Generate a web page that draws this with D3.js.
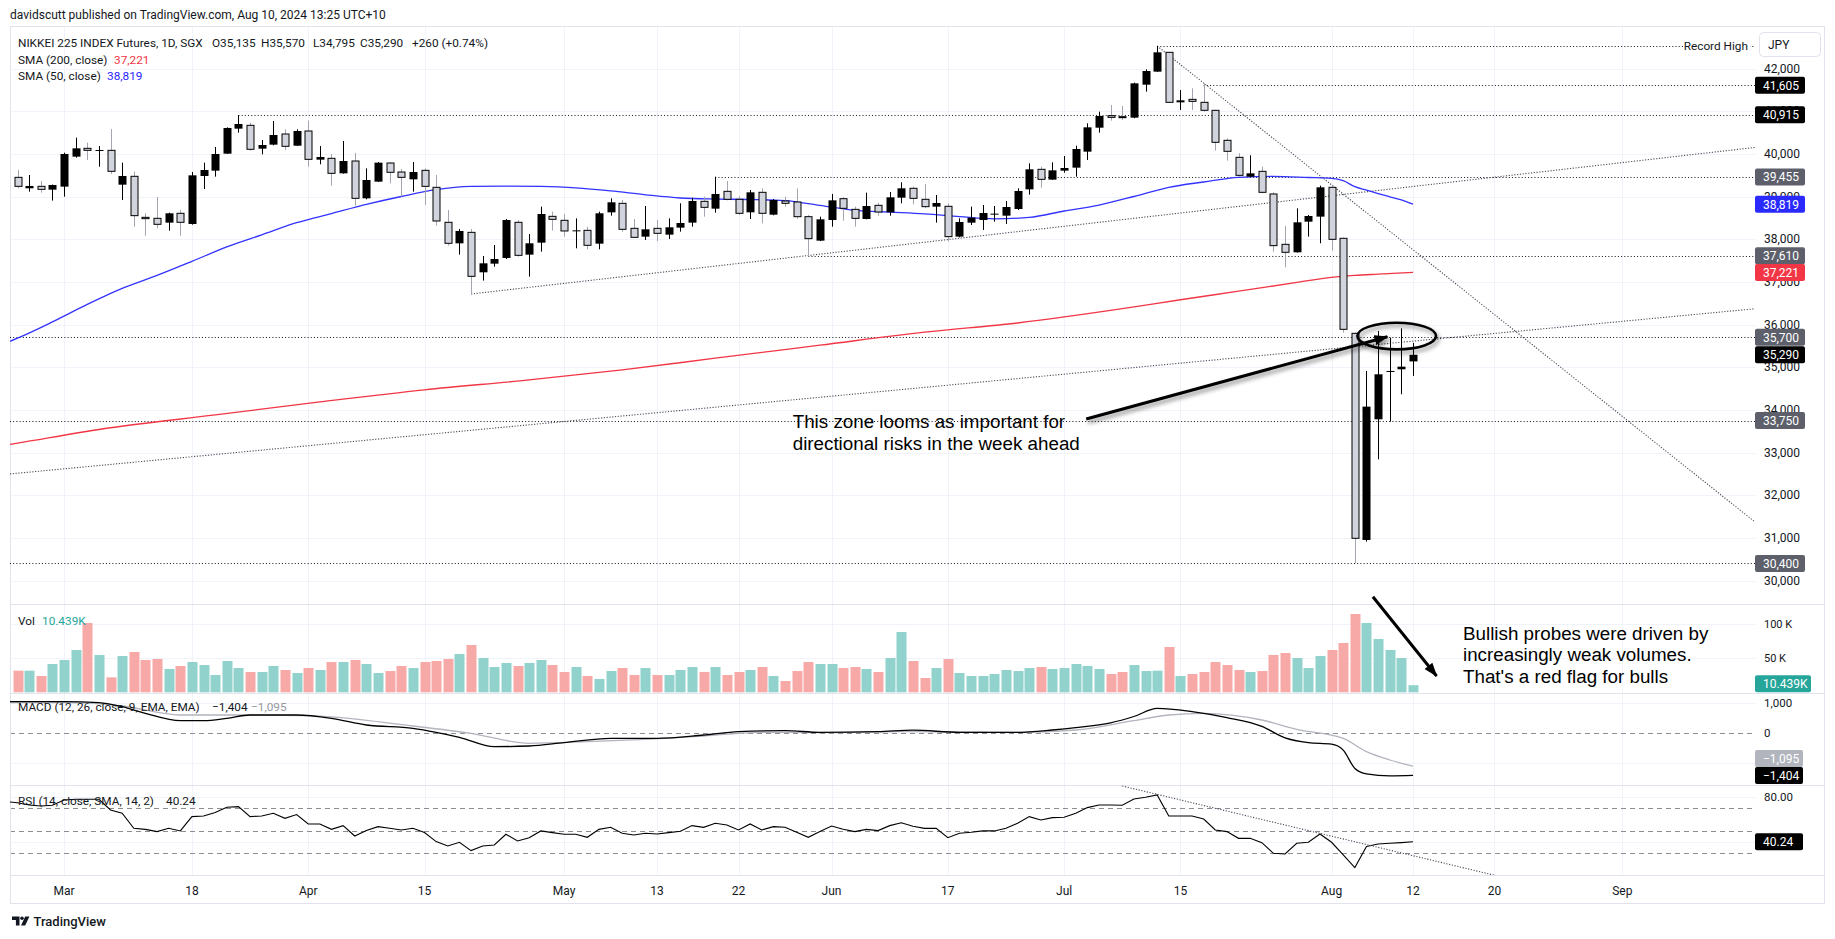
<!DOCTYPE html>
<html><head><meta charset="utf-8">
<script src="https://cdn.jsdelivr.net/npm/d3@7"></script>
<style>
html,body{margin:0;padding:0;background:#fff;}
svg{display:block;}
</style></head><body>
<svg id="c" width="1835" height="939"></svg>
<script>
// ---------------- DATA ----------------
const dates = ["02-26","02-27","02-28","02-29",
"03-01","03-04","03-05","03-06","03-07","03-08","03-11","03-12","03-13","03-14","03-15","03-18","03-19","03-20","03-21","03-22","03-25","03-26","03-27","03-28","03-29",
"04-01","04-02","04-03","04-04","04-05","04-08","04-09","04-10","04-11","04-12","04-15","04-16","04-17","04-18","04-19","04-22","04-23","04-24","04-25","04-26","04-29","04-30",
"05-01","05-02","05-03","05-06","05-07","05-08","05-09","05-10","05-13","05-14","05-15","05-16","05-17","05-20","05-21","05-22","05-23","05-24","05-27","05-28","05-29","05-30","05-31",
"06-03","06-04","06-05","06-06","06-07","06-10","06-11","06-12","06-13","06-14","06-17","06-18","06-19","06-20","06-21","06-24","06-25","06-26","06-27","06-28",
"07-01","07-02","07-03","07-04","07-05","07-08","07-09","07-10","07-11","07-12","07-15","07-16","07-17","07-18","07-19","07-22","07-23","07-24","07-25","07-26","07-29","07-30","07-31",
"08-01","08-02","08-05","08-06","08-07","08-08","08-09","08-12"];

const open = [39449,39192,39238,39160,39231,39934,40129,40074,40082,39277,
39473,38512,38489,38387,38606,38356,39481,39606,40004,40590,
40668,40121,40215,40465,40191,40535,39863,39895,39543,39832,
38957,39348,39785,39574,39402,39613,39215,38395,37903,38160,
37223,37426,37559,38395,37637,37918,38535,38442,38184,38207,
37895,38629,38840,38254,38059,38254,38106,38270,38387,38887,
38715,39121,38934,38629,39098,38574,38895,38871,38527,37965,
38449,38949,38699,38473,38793,38629,38973,39192,38934,38762,
38770,38059,38387,38449,38582,38551,38707,39168,39637,39395,
39606,39676,40051,40613,40895,40871,40848,41621,41926,42379,
41207,41277,41207,41020,40317,39918,39465,39590,39059,37879,
37692,38410,38528,39215,38020,35793,30950,33778,34895,34950,
35135];
const high = [39621,39504,39363,39280,40027,40379,40262,40184,40582,39793,
39582,38606,38988,38621,38684,39574,39793,40160,40621,40910,
40730,40324,40770,40574,40574,40777,40184,39996,40301,40020,
39660,39809,39809,39645,39809,39660,39504,38684,38238,38238,
37606,37864,38473,38449,38121,38762,38645,38590,38488,38293,
38645,38957,38918,38473,38777,38449,38488,38840,38973,38996,
39465,39363,39012,39152,39191,38942,38996,39191,38567,38527,
39059,38981,38762,39090,38856,39106,39332,39231,39293,39035,
38840,38489,38762,38801,38777,38895,39192,39777,39699,39801,
39949,40192,40715,40988,41145,41121,41668,41980,42527,42390,
41496,41535,41652,41030,40363,40012,39965,39699,39098,38309,
38723,38567,39254,39246,38040,35809,34911,35848,35692,35910,
35570];
const low = [39192,39113,39090,38903,38996,39910,39856,39699,39527,38918,
38293,38082,38254,38199,38082,38340,39176,39465,39996,40496,
40074,39988,40199,40090,40184,39699,39754,39254,39535,38785,
38934,39340,39309,38996,39113,38801,38317,37848,37637,36715,
37028,37356,37535,37590,37121,37707,38199,38059,37785,37762,
37762,38551,38176,38030,37981,37957,38004,38176,38293,38527,
38621,38910,38567,38473,38371,38560,38762,38481,37598,37955,
38293,38434,38293,38465,38551,38551,38840,38817,38723,38387,
37942,38043,38332,38215,38410,38356,38684,39043,39207,39390,
39559,39465,39856,40496,40777,40793,40833,41457,41920,41199,
41027,41027,40988,40074,39840,39465,39455,39074,37707,37340,
37685,38059,37903,37731,35809,30400,30911,32840,33723,34364,
34795];
const close = [39238,39246,39168,39270,39996,40129,40082,40090,39590,39481,
38551,38481,38348,38606,38395,39496,39621,39996,40606,40699,
40106,40207,40442,40176,40535,39871,39926,39543,39832,38957,
39387,39793,39567,39449,39574,39238,38426,37903,38192,37129,
37434,37535,38449,37621,37903,38590,38465,38192,38207,37856,
38606,38864,38231,38043,38231,38137,38278,38379,38895,38746,
39059,38934,38606,39098,38606,38918,38840,38527,38012,38465,
38910,38723,38488,38777,38637,38981,39192,38957,38762,38848,
38059,38403,38504,38613,38598,38754,39129,39637,39402,39613,
39668,40113,40621,40887,40855,40848,41652,41941,42379,41207,
41254,41230,41020,40270,40059,39496,39543,39098,37848,37692,
38395,38543,39215,37996,35887,30989,34075,34833,34911,35012,
35290];
// volume in thousands of contracts
const volumeK = [31.8,31.8,24.0,41.6,47.5,62.2,101.9,54.9,22.0,53.4,
59.3,47.5,49.0,34.3,38.7,44.6,40.1,25.4,46.0,35.7,
29.9,29.9,38.7,32.8,28.4,35.7,32.8,44.6,44.6,47.5,
41.6,28.4,31.3,38.7,35.7,44.6,46.0,49.0,56.3,69.6,
50.4,37.2,43.1,38.7,43.1,47.5,40.1,29.9,37.2,24.0,
19.6,31.3,35.7,25.4,35.7,25.4,25.4,32.8,37.2,29.9,
37.2,25.4,29.9,32.8,37.2,24.0,16.6,31.3,44.6,41.6,
41.6,35.7,37.2,34.3,29.9,50.4,88.7,46.0,21.0,35.7,
49.0,28.4,24.0,24.0,26.9,32.8,31.3,35.7,37.2,34.3,
35.7,41.6,38.7,34.3,26.9,29.9,40.1,31.3,31.8,66.6,
24.0,26.9,29.9,44.6,40.1,32.8,29.9,31.3,54.9,57.8,
50.4,35.7,53.4,62.2,72.5,115.1,101.9,78.4,62.2,50.4,
10.439];
// indicator lines read at bar numbers (bar -1 = the session before the first candle, at the left edge)
const sma50Bars = [-1,0,3,6,9,12,15,18,21,24,27,30,33,36,39,42,45,48,51,54,57,60,63,66,69,72,75,78,81,84,87,90,93,96,99,102,105,108,111,113,114,115,116,117,118,119,120];
const sma50Vals = [35570,35680,36060,36470,36845,37150,37480,37820,38100,38385,38600,38815,39000,39160,39235,39245,39235,39200,39130,39040,38965,38940,38930,38905,38790,38675,38635,38595,38530,38475,38510,38660,38800,39000,39215,39340,39450,39470,39445,39425,39370,39230,39150,39070,38994,38920,38819];
const sma200Bars = [-1,0,8,17,26,35,44,52,60,69,78,86,95,100,105,110,113,115,117,120];
const sma200Vals = [33175,33220,33580,33880,34185,34470,34700,34935,35210,35515,35820,36035,36370,36580,36780,36985,37105,37150,37180,37221];
const macdBars = [-1,0,4,7,9,11,14,16,18,20,24,27,30,34,36,38,41,44,47,51,55,59,62,66,69,74,77,81,86,89,91,94,96,98,101,104,107,109,111,113,114,115,116,118,120];
const macdVals = [1054,1054,1054,1021,888,666,421,421,499,610,610,499,277,166,32,-134,-445,-423,-312,-168,-168,-57,55,88,32,55,105,32,32,110,188,350,560,830,720,520,230,-150,-310,-360,-560,-1170,-1350,-1420,-1404];
const signalBars = [-1,0,4,9,14,19,25,34,39,44,49,54,59,64,69,76,86,91,96,99,102,107,110,114,116,118,120];
const signalVals = [1021,1021,1021,910,610,610,588,243,0,-334,-279,-201,-90,32,21,55,32,110,421,610,666,443,132,-168,-612,-890,-1095];
const rsiPrev = 76.0;
const rsi = [75.0,73.0,72.1,72.7,77.4,78.0,78.0,78.0,68.5,65.6,
52.2,51.3,49.3,52.2,49.9,62.6,63.2,66.2,70.9,71.5,
62.6,63.2,65.6,61.1,64.4,56.1,56.1,51.3,54.6,45.4,
50.2,53.7,52.2,50.7,52.2,48.4,40.4,36.5,39.8,32.4,
36.5,37.4,46.9,41.0,43.9,49.9,48.4,46.9,46.9,44.2,
51.3,53.1,47.8,46.3,47.8,47.2,48.4,49.6,54.6,53.1,
56.7,55.2,50.7,56.1,50.7,53.7,53.1,48.7,44.2,49.3,
54.3,51.3,49.3,51.3,50.2,54.6,57.1,54.0,52.2,52.2,
43.9,47.8,48.7,49.9,49.9,52.2,56.7,62.6,59.6,61.7,
62.0,65.6,70.6,73.0,73.0,72.7,78.3,79.8,81.9,63.2,
63.2,63.2,60.5,50.7,49.3,43.3,43.3,39.5,30.0,29.4,
38.9,39.8,47.2,39.8,28.5,17.3,36.0,38.3,38.9,39.5,
40.24];
// axis ticks
const tickDates = ["03-01","03-18","04-01","04-15","05-01","05-13","05-22","06-03","06-17","07-01","07-15","08-01","08-12"];
const tickLabels = ["Mar","18","Apr","15","May","13","22","Jun","17","Jul","15","Aug","12"];
const futureTickBarsAhead = [7,18];
const futureTickLabels = ["20","Sep"];
const priceTicks = [30000,31000,32000,33000,34000,35000,36000,37000,38000,39000,40000,41000,42000];
const volTicks = [50,100];
const volTickLabels = ["50 K","100 K"];
const macdGrid = [-1000,0,1000];
const macdTickLabels = [0,1000];
const rsiGrid = [40,80];
const rsiTickLabels = [80];
const rsiBands = [30,50,70];
// horizontal levels (price, start date or null for full width)
const levelPrices = [42520,41605,40915,39455,37610,35700,33750,30400];
const levelFrom = ["07-11","07-17","03-22","05-20","05-30",null,null,null];
// trendlines: two anchor points (date, value)
const trendA = [["04-19",36715],["08-12",39235]];
const trendB = [["02-26",32514],["08-12",35610]];
const trendC = [["07-11",42527],["08-12",37753]];
const rsiTrend = [["07-11",82.4],["07-31",47.7]];
// right-axis badges
const badgeVals = [41605,40915,39455,38819,37610,37221,35700,35290,33750,30400];
const badgeColors = ["#000","#000","#5d606b","#2a2aff","#5d606b","#f23645","#5d606b","#000","#5d606b","#5d606b"];

// ---------------- LAYOUT ----------------
const P = {left:10,right:1824,top:26,plotR:1755,mainB:604,volB:693,macdB:785,rsiB:875,bottom:903};
const FONT = "Roboto, 'Liberation Sans', Arial, sans-serif";
const TXT = "#131722";
const svg = d3.select("#c").style("font-family", FONT);
const bi = d => dates.indexOf(d);
const x = d3.scaleLinear().domain([0, dates.length-1]).range([17.5, 1413]);
const yP = d3.scaleLinear().domain([30000,42000]).range([580.5,68.5]);
const yV = d3.scaleLinear().domain([0,100]).range([692.3,624.3]);
const yM = d3.scaleLinear().domain([-1000,1000]).range([763.3,703.3]);
const yR = d3.scaleLinear().domain([30,70]).range([853.3,808.3]);
const xEnd = x.invert(P.plotR);
const xStart = x.invert(P.left);

const defs = svg.append("defs");
function clip(id,y0,y1){defs.append("clipPath").attr("id",id).append("rect").attr("x",P.left).attr("y",y0).attr("width",P.plotR-P.left).attr("height",y1-y0);}
clip("cMain",P.top,P.mainB); clip("cVol",P.mainB,P.volB); clip("cMacd",P.volB,P.macdB); clip("cRsi",P.macdB,P.rsiB);
const f = defs.append("filter").attr("id","shadow").attr("x","-20%").attr("y","-40%").attr("width","150%").attr("height","200%");
f.append("feDropShadow").attr("dx",2).attr("dy",3).attr("stdDeviation",2).attr("flood-color","#000").attr("flood-opacity",0.45);
defs.append("marker").attr("id","ah").attr("markerUnits","userSpaceOnUse").attr("markerWidth",16).attr("markerHeight",12)
  .attr("refX",13).attr("refY",5).attr("orient","auto").append("path").attr("d","M0,0 L14,5 L0,10 Z").attr("fill","#000");

// header
svg.append("text").attr("x",10).attr("y",19).attr("font-size",12).attr("fill",TXT)
  .text("davidscutt published on TradingView.com, Aug 10, 2024 13:25 UTC+10");

// grids
const g = svg.append("g");
const allTickX = tickDates.map(d=>x(bi(d))).concat(futureTickBarsAhead.map(n=>x(dates.length-1+n)));
g.selectAll(".vg").data(allTickX).join("line").attr("x1",d=>Math.round(d)+0.5).attr("x2",d=>Math.round(d)+0.5)
  .attr("y1",P.top).attr("y2",P.rsiB).attr("stroke","#f0f3fa");
g.selectAll(".hg").data(priceTicks).join("line").attr("x1",P.left).attr("x2",P.plotR)
  .attr("y1",d=>Math.round(yP(d))+0.5).attr("y2",d=>Math.round(yP(d))+0.5).attr("stroke","#f0f3fa");
g.selectAll(".vgh").data(volTicks).join("line").attr("x1",P.left).attr("x2",P.plotR)
  .attr("y1",d=>Math.round(yV(d))+0.5).attr("y2",d=>Math.round(yV(d))+0.5).attr("stroke","#f0f3fa");
g.selectAll(".mg").data(macdGrid).join("line").attr("x1",P.left).attr("x2",P.plotR)
  .attr("y1",d=>Math.round(yM(d))+0.5).attr("y2",d=>Math.round(yM(d))+0.5)
  .attr("stroke",d=>d===0?"#8a8d96":"#f0f3fa").attr("stroke-dasharray",d=>d===0?"5,4":null);
g.selectAll(".rg").data(rsiGrid).join("line").attr("x1",P.left).attr("x2",P.plotR)
  .attr("y1",d=>Math.round(yR(d))+0.5).attr("y2",d=>Math.round(yR(d))+0.5).attr("stroke","#f0f3fa");
g.selectAll(".rb").data(rsiBands).join("line").attr("x1",P.left).attr("x2",P.plotR)
  .attr("y1",d=>Math.round(yR(d))+0.5).attr("y2",d=>Math.round(yR(d))+0.5).attr("stroke","#8a8d96").attr("stroke-dasharray","5,4");

// frame & separators
svg.append("rect").attr("x",P.left+0.5).attr("y",P.top+0.5).attr("width",P.right-P.left).attr("height",P.bottom-P.top)
  .attr("fill","none").attr("stroke","#e0e3eb");
svg.selectAll(".sep").data([P.mainB,P.volB,P.macdB,P.rsiB]).join("line").attr("x1",P.left).attr("x2",P.right)
  .attr("y1",d=>d+0.5).attr("y2",d=>d+0.5).attr("stroke","#e0e3eb");

// main pane
const main = svg.append("g").attr("clip-path","url(#cMain)");
main.selectAll(".lvl").data(levelPrices).join("line")
  .attr("x1",(d,i)=>levelFrom[i]?x(bi(levelFrom[i])):P.left).attr("x2",P.plotR)
  .attr("y1",d=>Math.round(yP(d))+0.5).attr("y2",d=>Math.round(yP(d))+0.5)
  .attr("stroke","#131722").attr("stroke-width",1).attr("stroke-dasharray","1,2.2");
function tl(anch, fromStart){
  const i1=bi(anch[0][0]), i2=bi(anch[1][0]);
  const k=(anch[1][1]-anch[0][1])/(i2-i1);
  const s = fromStart? xStart : i1;
  return [[s, anch[0][1]+k*(s-i1)],[xEnd, anch[0][1]+k*(xEnd-i1)]];
}
[[trendA,false],[trendB,true],[trendC,false]].forEach(([t,fs])=>{
  const pts=tl(t,fs);
  main.append("line").attr("x1",x(pts[0][0])).attr("y1",yP(pts[0][1])).attr("x2",x(pts[1][0])).attr("y2",yP(pts[1][1]))
    .attr("stroke","#4a4d57").attr("stroke-width",1.1).attr("stroke-dasharray","1.2,1.6");
});
const lineP = d3.line().curve(d3.curveMonotoneX);
main.append("path").attr("d",lineP(sma200Bars.map((b,i)=>[x(b),yP(sma200Vals[i])])))
  .attr("fill","none").attr("stroke","#f23645").attr("stroke-width",1.3);
main.append("path").attr("d",lineP(sma50Bars.map((b,i)=>[x(b),yP(sma50Vals[i])])))
  .attr("fill","none").attr("stroke","#3333ff").attr("stroke-width",1.3);
const idxs = d3.range(dates.length);
const up = i => close[i] >= open[i];
main.selectAll(".wick").data(idxs).join("line")
  .attr("x1",i=>Math.round(x(i))+0.5).attr("x2",i=>Math.round(x(i))+0.5)
  .attr("y1",i=>yP(high[i])).attr("y2",i=>yP(low[i]))
  .attr("stroke",i=>up(i)?"#000":"#a3a6af").attr("stroke-width",1);
main.selectAll(".body").data(idxs).join("rect")
  .attr("x",i=>up(i)?Math.round(x(i))-3.5:Math.round(x(i))-3)
  .attr("width",i=>up(i)?8:7)
  .attr("y",i=>yP(Math.max(open[i],close[i])))
  .attr("height",i=>Math.max(1,Math.abs(yP(open[i])-yP(close[i]))))
  .attr("fill",i=>up(i)?"#000":"#d1d4dc")
  .attr("stroke",i=>up(i)?"none":"#000").attr("stroke-width",1);

// Record High label
const rhY = yP(levelPrices[0]);
svg.append("rect").attr("x",1683).attr("y",rhY-8).attr("width",67).attr("height",15).attr("fill","#fff");
svg.append("text").attr("x",1748).attr("y",rhY+4).attr("text-anchor","end").attr("font-size",11.8).attr("fill",TXT).text("Record High");

// volume
const vol = svg.append("g").attr("clip-path","url(#cVol)");
vol.selectAll("rect").data(idxs).join("rect")
  .attr("x",i=>Math.round(x(i))-4.5).attr("width",10)
  .attr("y",i=>yV(volumeK[i])).attr("height",i=>yV(0)-yV(volumeK[i]))
  .attr("fill",i=>up(i)?"#92d2cc":"#f7a9a7");

// MACD
const mg = svg.append("g").attr("clip-path","url(#cMacd)");
mg.append("path").attr("d",lineP(signalBars.map((b,i)=>[x(b),yM(signalVals[i])])))
  .attr("fill","none").attr("stroke","#b2b5be").attr("stroke-width",1.3);
mg.append("path").attr("d",lineP(macdBars.map((b,i)=>[x(b),yM(macdVals[i])])))
  .attr("fill","none").attr("stroke","#000").attr("stroke-width",1.3);

// RSI
const rg = svg.append("g").attr("clip-path","url(#cRsi)");
rg.append("path").attr("d",d3.line()([[x(-1),yR(rsiPrev)]].concat(rsi.map((v,i)=>[x(i),yR(v)]))))
  .attr("fill","none").attr("stroke","#000").attr("stroke-width",1.1);
{
  const i1=bi(rsiTrend[0][0]), i2=bi(rsiTrend[1][0]);
  const k=(rsiTrend[1][1]-rsiTrend[0][1])/(i2-i1);
  const s=i1-3, e=dates.length-1+7;
  rg.append("line").attr("x1",x(s)).attr("y1",yR(rsiTrend[0][1]+k*(s-i1))).attr("x2",x(e)).attr("y2",yR(rsiTrend[0][1]+k*(e-i1)))
    .attr("stroke","#4a4d57").attr("stroke-width",1.1).attr("stroke-dasharray","1.2,1.6");
}

// annotations
const ann = svg.append("g");
ann.append("ellipse").attr("cx",x(118.6)).attr("cy",yP(35730)).attr("rx",x(118.6+3.38)-x(118.6)).attr("ry",yP(35730-312)-yP(35730))
  .attr("fill","none").attr("stroke","#000").attr("stroke-width",2.6).attr("filter","url(#shadow)");
ann.append("line").attr("x1",x(91.9)).attr("y1",yP(33786)).attr("x2",x(117.8)).attr("y2",yP(35714))
  .attr("stroke","#000").attr("stroke-width",3).attr("marker-end","url(#ah)").attr("filter","url(#shadow)");
ann.append("line").attr("x1",x(116.55)).attr("y1",yV(140.6)).attr("x2",x(122.03)).attr("y2",yV(24))
  .attr("stroke","#000").attr("stroke-width",3).attr("marker-end","url(#ah)");
const AF = "'Liberation Sans', Arial, sans-serif";
const t1 = ann.append("text").attr("font-family",AF).attr("font-size",18.8).attr("fill","#000");
["This zone looms as important for","directional risks in the week ahead"].forEach((s,k)=>
  t1.append("tspan").attr("x",x(66.66)).attr("y",yP(33568)+k*21.7).text(s));
const t2 = ann.append("text").attr("font-family",AF).attr("font-size",18.8).attr("fill","#000");
["Bullish probes were driven by","increasingly weak volumes.","That's a red flag for bulls"].forEach((s,k)=>
  t2.append("tspan").attr("x",x(124.3)).attr("y",yV(77.6)+k*21.7).text(s));

// right axis labels
const ax = svg.append("g").attr("font-size",12).attr("fill",TXT);
ax.selectAll(".pl").data(priceTicks).join("text").attr("x",1764).attr("y",d=>yP(d)+4.3).text(d3.format(","));
ax.selectAll(".vl").data(volTicks).join("text").attr("x",1764).attr("y",d=>yV(d)+4).attr("font-size",11).text((d,i)=>volTickLabels[i]);
ax.selectAll(".ml").data(macdTickLabels).join("text").attr("x",1764).attr("y",d=>yM(d)+4).attr("font-size",11.5).text(d3.format(","));
ax.selectAll(".rl").data(rsiTickLabels).join("text").attr("x",1764).attr("y",d=>yR(d)+4).attr("font-size",11.5).text(d=>d.toFixed(2));

function badge(yc, txt, bg, fg, w){
  svg.append("rect").attr("x",1755).attr("y",yc-8.5).attr("width",w||50).attr("height",17).attr("rx",2).attr("fill",bg);
  svg.append("text").attr("x",1763).attr("y",yc+4.3).attr("font-size",12).attr("fill",fg||"#fff").text(txt);
}
badgeVals.forEach((v,i)=>badge(yP(v), d3.format(",")(v), badgeColors[i]));
badge(yV(volumeK[volumeK.length-1])-1.5, "10.439K", "#26a69a", "#fff", 56);
const mLast = macdVals[macdVals.length-1], sLast = signalVals[signalVals.length-1];
const fmtM = v => d3.format(",")(v).replace("-","\u2212");
badge(Math.min(yM(sLast), yM(mLast)-17), fmtM(sLast), "#b2b5be", "#fff", 48);
badge(yM(mLast), fmtM(mLast), "#000", "#fff", 48);
badge(yR(rsi[rsi.length-1]), rsi[rsi.length-1].toFixed(2), "#000", "#fff", 48);

// JPY box
svg.append("rect").attr("x",1759.5).attr("y",32.5).attr("width",61).attr("height",24).attr("rx",4).attr("fill","#fff").attr("stroke","#e0e3eb");
svg.append("text").attr("x",1768).attr("y",49).attr("font-size",12).attr("fill",TXT).text("JPY");

// date axis
const dax = svg.append("g").attr("font-size",12).attr("fill",TXT).attr("text-anchor","middle");
const allLabels = tickLabels.concat(futureTickLabels);
dax.selectAll("text").data(allTickX).join("text").attr("x",d=>d).attr("y",894.5).text((d,i)=>allLabels[i]);

// legends
const lg = svg.append("g").attr("font-size",11.8).attr("fill",TXT);
lg.append("text").attr("x",18).attr("y",46.5).text("NIKKEI 225 INDEX Futures, 1D, SGX");
const ohlcTxt = ["O"+d3.format(",")(open[120]),"H"+d3.format(",")(high[120]),"L"+d3.format(",")(low[120]),"C"+d3.format(",")(close[120]),"+260 (+0.74%)"];
const ohlcX = [212,261,313,360,412];
ohlcTxt.forEach((s,i)=>lg.append("text").attr("x",ohlcX[i]).attr("y",46.5).text(s));
const l2 = lg.append("text").attr("x",18).attr("y",63.5); l2.append("tspan").text("SMA (200, close)");
l2.append("tspan").attr("x",114).attr("fill","#f23645").text(d3.format(",")(sma200Vals[sma200Vals.length-1]));
const l3 = lg.append("text").attr("x",18).attr("y",79.5); l3.append("tspan").text("SMA (50, close)");
l3.append("tspan").attr("x",107).attr("fill","#2a2aff").text(d3.format(",")(sma50Vals[sma50Vals.length-1]));
const l4 = lg.append("text").attr("x",18).attr("y",624.5); l4.append("tspan").text("Vol");
l4.append("tspan").attr("x",42).attr("fill","#26a69a").text("10.439K");
const l5 = lg.append("text").attr("x",18).attr("y",711); l5.append("tspan").text("MACD (12, 26, close, 9, EMA, EMA)");
l5.append("tspan").attr("x",212).text(fmtM(mLast));
l5.append("tspan").attr("x",251).attr("fill","#9598a1").text(fmtM(sLast));
const l6 = lg.append("text").attr("x",18).attr("y",805); l6.append("tspan").text("RSI (14, close, SMA, 14, 2)");
l6.append("tspan").attr("x",166).text(rsi[rsi.length-1].toFixed(2));

// TradingView logo
const logo = svg.append("g").attr("fill",TXT);
logo.append("path").attr("d","M12,916.5 h7.5 v9 h-3.6 v-5.4 h-3.9 Z");
logo.append("circle").attr("cx",22).attr("cy",918.3).attr("r",1.8);
logo.append("path").attr("d","M25.2,916.5 h4.2 l-4.2,9 h-4.2 Z");
svg.append("text").attr("x",33.5).attr("y",925.5).attr("font-size",13).attr("font-weight",500).attr("fill",TXT).text("TradingView");
</script>
</body></html>
